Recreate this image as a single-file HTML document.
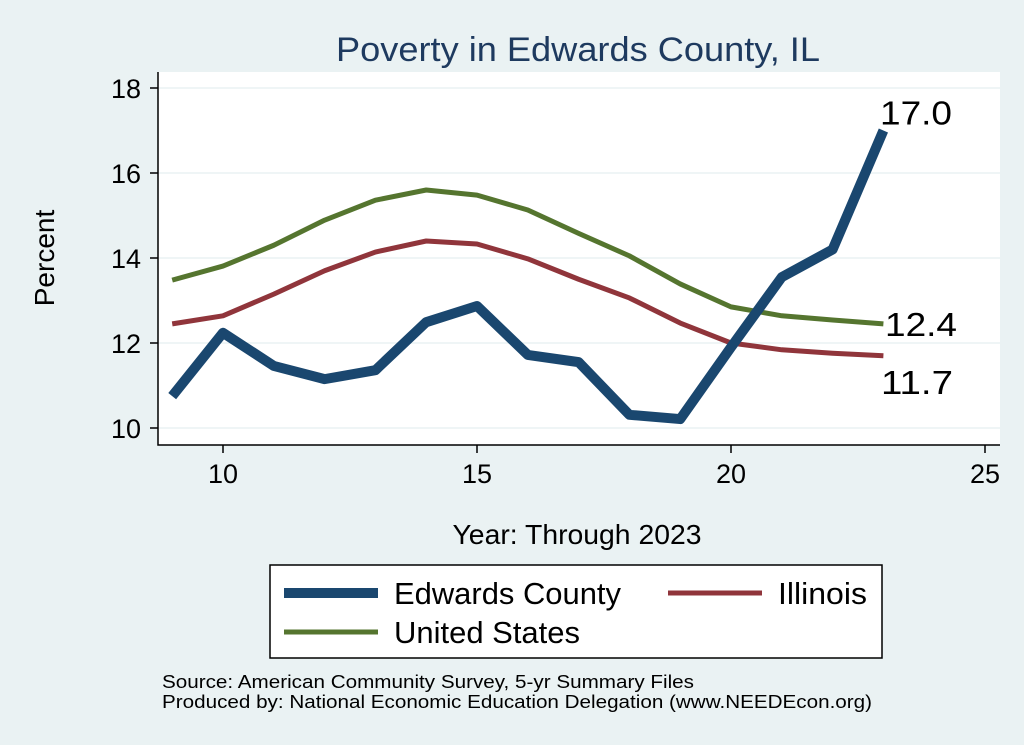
<!DOCTYPE html>
<html><head><meta charset="utf-8"><style>
body{margin:0;background:#eaf2f3;font-family:"Liberation Sans",Arial,sans-serif;}
svg{display:block}
</style></head><body>
<svg id="chart" width="1024" height="745">
<rect x="0" y="0" width="1024" height="745" fill="#eaf2f3"/>
<text x="578" y="61" font-size="34" fill="#1e3a5f" text-anchor="middle" textLength="484" lengthAdjust="spacingAndGlyphs">Poverty in Edwards County, IL</text>
<rect x="158" y="72" width="842" height="373" fill="#fff"/>
<g id="grid"></g><g id="axes"></g><g id="series"></g><g id="labels"></g>
<text x="54" y="258" font-size="28" fill="#000" text-anchor="middle" transform="rotate(-90 54 258)">Percent</text>
<text x="577" y="544" font-size="28" fill="#000" text-anchor="middle" textLength="249" lengthAdjust="spacingAndGlyphs">Year: Through 2023</text>
<g>
<rect x="270" y="565" width="612" height="93" fill="#fff" stroke="#000" stroke-width="1.5"/>
<line x1="284" y1="593" x2="378" y2="593" stroke="#1a476f" stroke-width="10"/>
<text x="394" y="604" font-size="31" textLength="227" lengthAdjust="spacingAndGlyphs">Edwards County</text>
<line x1="668" y1="593" x2="762" y2="593" stroke="#90353b" stroke-width="5"/>
<text x="778" y="604" font-size="31" textLength="89" lengthAdjust="spacingAndGlyphs">Illinois</text>
<line x1="284" y1="632" x2="378" y2="632" stroke="#55752f" stroke-width="5"/>
<text x="394" y="643" font-size="31" textLength="186" lengthAdjust="spacingAndGlyphs">United States</text>
</g>
<text x="162" y="688" font-size="18" textLength="532" lengthAdjust="spacingAndGlyphs">Source: American Community Survey, 5-yr Summary Files</text>
<text x="162" y="708" font-size="18" textLength="710" lengthAdjust="spacingAndGlyphs">Produced by: National Economic Education Delegation (www.NEEDEcon.org)</text>
</svg>
<script>
const years=[9,10,11,12,13,14,15,16,17,18,19,20,21,22,23];
const edwards=[10.75,12.24,11.46,11.15,11.36,12.49,12.87,11.72,11.55,10.31,10.21,11.9,13.55,14.2,17.0];
const illinois=[12.45,12.64,13.15,13.7,14.14,14.4,14.33,13.98,13.5,13.06,12.47,12.0,11.84,11.76,11.7];
const us=[13.48,13.81,14.3,14.89,15.36,15.6,15.48,15.13,14.58,14.05,13.39,12.85,12.64,12.54,12.45];
const xTicks=[10,15,20,25];
const yTicks=[10,12,14,16,18];
const NS="http://www.w3.org/2000/svg";
const xs=v=>223+(v-10)*50.8;
const ys=v=>428-(v-10)*42.5;
function mk(tag,attrs,parent){const e=document.createElementNS(NS,tag);for(const k in attrs)e.setAttribute(k,attrs[k]);document.getElementById(parent).appendChild(e);return e;}
yTicks.forEach(t=>{
 const g=mk('line',{x1:158,x2:1000,y1:ys(t),y2:ys(t),stroke:'#eaf2f3','stroke-width':1.5},'grid');
 
 
 const tk=mk('line',{x1:150,x2:158,y1:ys(t),y2:ys(t),stroke:'#000','stroke-width':1.5},'axes');
 
 
 const tx=mk('text',{x:141,y:ys(t)+10,'font-size':27,'text-anchor':'end'},'axes');
 tx.textContent=t;
 
 
});
xTicks.forEach(t=>{
 const tk=mk('line',{x1:xs(t),x2:xs(t),y1:445,y2:453,stroke:'#000','stroke-width':1.5},'axes');
 
 
 const tx=mk('text',{x:xs(t),y:483,'font-size':27,'text-anchor':'middle'},'axes');
 tx.textContent=t;
 
 
});
const ax=mk('path',{d:'M158 72 V445 H1000',fill:'none',stroke:'#000','stroke-width':1.5},'axes');


function line(vals,color,w,name){
 const p=mk('polyline',{points:years.map((y,i)=>xs(y)+','+ys(vals[i])).join(' '),fill:'none',stroke:color,'stroke-width':w,'stroke-linejoin':'round'},'series');
 
 
}
line(us,'#55752f',5,'us-line');
line(illinois,'#90353b',5,'illinois-line');
line(edwards,'#1a476f',10,'edwards-line');
const n=years.length-1;
[[edwards,'edwards-end-label',-6,880],[us,'us-end-label',12,885],[illinois,'illinois-end-label',38,881]].forEach(([v,nm,dy,x])=>{
 const t=mk('text',{x:x,y:ys(v[n])+dy,'font-size':33,textLength:72,lengthAdjust:'spacingAndGlyphs'},'labels');
 t.textContent=v[n].toFixed(1);
 
 
});
</script>
</body></html>
